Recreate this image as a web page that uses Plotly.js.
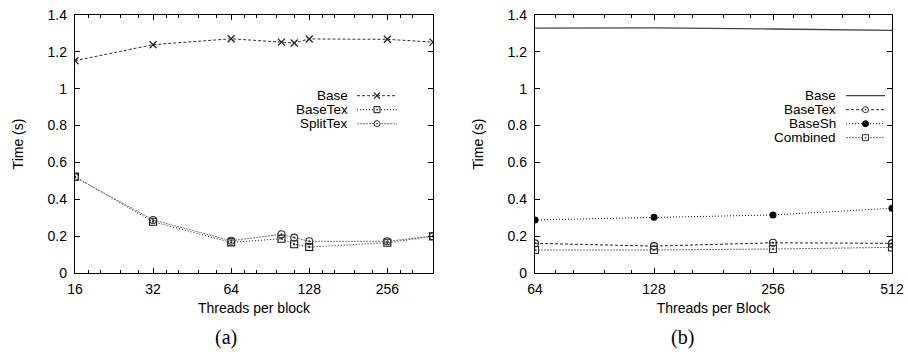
<!DOCTYPE html>
<html><head><meta charset="utf-8">
<script src="https://cdn.plot.ly/plotly-3.0.1.min.js"></script>
<style>html,body{margin:0;padding:0;background:#fff}#chart{width:908px;height:352px}</style>
</head><body><div id="chart"></div>
<script>
// ---- Data (a) ----
const threadsA = [16, 32, 64, 100, 112, 128, 256, 384];
const baseA     = [1.152, 1.239, 1.271, 1.253, 1.248, 1.270, 1.268, 1.253];
const baseTexA  = [0.523, 0.278, 0.166, 0.186, 0.156, 0.141, 0.164, 0.199];
const splitTexA = [0.520, 0.288, 0.175, 0.210, 0.192, 0.172, 0.172, 0.200];
const tickValsA = [16, 32, 64, 128, 256];
// ---- Data (b) ----
const threadsB  = [64, 128, 256, 512];
const baseB     = [1.329, 1.330, 1.324, 1.317];
const baseTexB  = [0.161, 0.146, 0.164, 0.161];
const baseShB   = [0.288, 0.302, 0.315, 0.351];
const combinedB = [0.125, 0.125, 0.130, 0.139];
const tickValsB = [64, 128, 256, 512];
const yTicks = [0, 0.2, 0.4, 0.6, 0.8, 1, 1.2, 1.4];

const W = 908, H = 352;
const px = x => x / W, py = y => 1 - y / H;
const FONT = 'Liberation Sans, Arial, sans-serif';
const FS = 14;

function minorVals(lo, hi) {
  const out = [];
  for (let b = lo; b < hi; b *= 2) for (const f of [1.125, 1.25, 1.5, 1.75]) { const v = b * f; if (v < hi) out.push(v); }
  return out;
}

const traces = [
  {x: threadsA, y: baseA, name: 'Base', xaxis: 'x', yaxis: 'y', mode: 'lines+markers',
   line: {color: '#333', width: 1, dash: '3px,2px'}, marker: {symbol: 'x-thin-open', size: 7, color: '#222', line: {width: 1.3, color: '#222'}}},
  {x: threadsA, y: baseTexA, name: 'BaseTex', xaxis: 'x', yaxis: 'y', mode: 'lines+markers',
   line: {color: '#111', width: 1, dash: '1px,2px'}, marker: {symbol: 'square-open-dot', size: 7, color: '#111', line: {width: 1.1}}},
  {x: threadsA, y: splitTexA, name: 'SplitTex', xaxis: 'x', yaxis: 'y', mode: 'lines+markers',
   line: {color: '#777', width: 1, dash: '2px,1px'}, marker: {symbol: 'circle-open-dot', size: 7, color: '#333', line: {width: 1.1}}},
  {x: threadsB, y: baseB, name: 'Base', xaxis: 'x2', yaxis: 'y2', mode: 'lines',
   line: {color: '#444', width: 1.3}},
  {x: threadsB, y: baseTexB, name: 'BaseTex', xaxis: 'x2', yaxis: 'y2', mode: 'lines+markers',
   line: {color: '#222', width: 1, dash: '3px,2px'}, marker: {symbol: 'circle-open-dot', size: 7, color: '#222', line: {width: 1.1}}},
  {x: threadsB, y: baseShB, name: 'BaseSh', xaxis: 'x2', yaxis: 'y2', mode: 'lines+markers',
   line: {color: '#111', width: 1, dash: '1px,2px'}, marker: {symbol: 'circle', size: 7, color: '#000'}},
  {x: threadsB, y: combinedB, name: 'Combined', xaxis: 'x2', yaxis: 'y2', mode: 'lines+markers',
   line: {color: '#777', width: 1, dash: '2px,1px'}, marker: {symbol: 'square-open-dot', size: 7, color: '#333', line: {width: 1.1}}}
];

const xCommon = {type: 'log', showgrid: false, zeroline: false, showline: true, linecolor: '#000', linewidth: 1.2,
  mirror: 'ticks', ticks: 'inside', ticklen: 5, tickcolor: '#000', tickfont: {family: FONT, size: FS, color: '#000'},
  tickmode: 'array', automargin: false, ticklabelstandoff: 3,
  title: {font: {family: FONT, size: FS, color: '#000'}, standoff: 7}};
const yCommon = {range: [0, 1.4], showgrid: false, zeroline: false, showline: true, linecolor: '#000', linewidth: 1.2,
  mirror: 'ticks', ticks: 'inside', ticklen: 5, tickcolor: '#000', tickfont: {family: FONT, size: FS, color: '#000'},
  tickmode: 'array', tickvals: yTicks, ticktext: yTicks.map(String), automargin: false, ticklabelstandoff: 4,
  title: {text: 'Time (s)', font: {family: FONT, size: FS, color: '#000'}, standoff: 20}};

const layout = {
  width: W, height: H, margin: {l: 0, r: 0, t: 0, b: 0}, paper_bgcolor: '#fff', plot_bgcolor: '#fff',
  showlegend: false,
  xaxis: Object.assign({}, xCommon, {domain: [px(75), px(433)], range: [Math.log10(16), Math.log10(384)],
    tickvals: tickValsA, ticktext: tickValsA.map(String), anchor: 'y',
    minor: {tickmode: 'array', tickvals: minorVals(16, 384), ticks: 'inside', ticklen: 3, tickcolor: '#000'},
    title: Object.assign({}, xCommon.title, {text: 'Threads per block'})}),
  yaxis: Object.assign({}, yCommon, {domain: [py(273), py(15)], anchor: 'x'}),
  xaxis2: Object.assign({}, xCommon, {domain: [px(535), px(892)], range: [Math.log10(64), Math.log10(512)],
    tickvals: tickValsB, ticktext: tickValsB.map(String), anchor: 'y2',
    minor: {tickmode: 'array', tickvals: minorVals(64, 512), ticks: 'inside', ticklen: 3, tickcolor: '#000'},
    title: Object.assign({}, xCommon.title, {text: 'Threads per Block'})}),
  yaxis2: Object.assign({}, yCommon, {domain: [py(273), py(15)], anchor: 'x2'}),
  annotations: [], shapes: []
};

// captions
layout.annotations.push({xref: 'paper', yref: 'paper', x: px(226), y: py(337), text: '(a)', showarrow: false,
  font: {family: 'Liberation Serif, DejaVu Serif, serif', size: 20, color: '#000'}, xanchor: 'center', yanchor: 'middle'});
layout.annotations.push({xref: 'paper', yref: 'paper', x: px(682), y: py(337), text: '(b)', showarrow: false,
  font: {family: 'Liberation Serif, DejaVu Serif, serif', size: 20, color: '#000'}, xanchor: 'center', yanchor: 'middle'});

// gnuplot-style legends (text, then sample)
function legendEntry(trace, textRight, x0, x1, yc) {
  layout.annotations.push({xref: 'paper', yref: 'paper', x: px(textRight), y: py(yc), text: trace.name, showarrow: false,
    xanchor: 'right', yanchor: 'middle', borderpad: 0, font: {family: FONT, size: 13.5, color: '#000'}});
  const ln = trace.line;
  layout.shapes.push({type: 'line', xref: 'paper', yref: 'paper', x0: px(x0), x1: px(x1), y0: py(yc), y1: py(yc),
    line: {color: ln.color, width: ln.width, dash: ln.dash || 'solid'}});
  if (!trace.marker) return;
  const cx = (x0 + x1) / 2, s = 3, sym = trace.marker.symbol, col = trace.marker.color;
  if (sym.startsWith('x')) {
    layout.shapes.push({type: 'line', xref: 'paper', yref: 'paper', x0: px(cx - s), x1: px(cx + s), y0: py(yc - s), y1: py(yc + s), line: {color: col, width: 1.2}});
    layout.shapes.push({type: 'line', xref: 'paper', yref: 'paper', x0: px(cx - s), x1: px(cx + s), y0: py(yc + s), y1: py(yc - s), line: {color: col, width: 1.2}});
  } else {
    const type = sym.startsWith('square') ? 'rect' : 'circle';
    const filled = sym === 'circle';
    layout.shapes.push({type: type, xref: 'paper', yref: 'paper', x0: px(cx - s), x1: px(cx + s), y0: py(yc + s), y1: py(yc - s),
      line: {color: col, width: 1}, fillcolor: filled ? col : '#fff'});
    if (sym.endsWith('dot')) layout.shapes.push({type: 'circle', xref: 'paper', yref: 'paper', x0: px(cx - 0.6), x1: px(cx + 0.6), y0: py(yc + 0.6), y1: py(yc - 0.6), line: {color: col, width: 0.5}, fillcolor: col});
  }
}
const rowsY = [95.7, 109.7, 123.7, 137.7];
legendEntry(traces[0], 349, 357, 397, rowsY[0]);
legendEntry(traces[1], 349, 357, 397, rowsY[1]);
legendEntry(traces[2], 349, 357, 397, rowsY[2]);
legendEntry(traces[3], 837, 846, 885, rowsY[0]);
legendEntry(traces[4], 837, 846, 885, rowsY[1]);
legendEntry(traces[5], 837, 846, 885, rowsY[2]);
legendEntry(traces[6], 837, 846, 885, rowsY[3]);

Plotly.newPlot('chart', traces, layout, {staticPlot: true, displayModeBar: false});
</script></body></html>
